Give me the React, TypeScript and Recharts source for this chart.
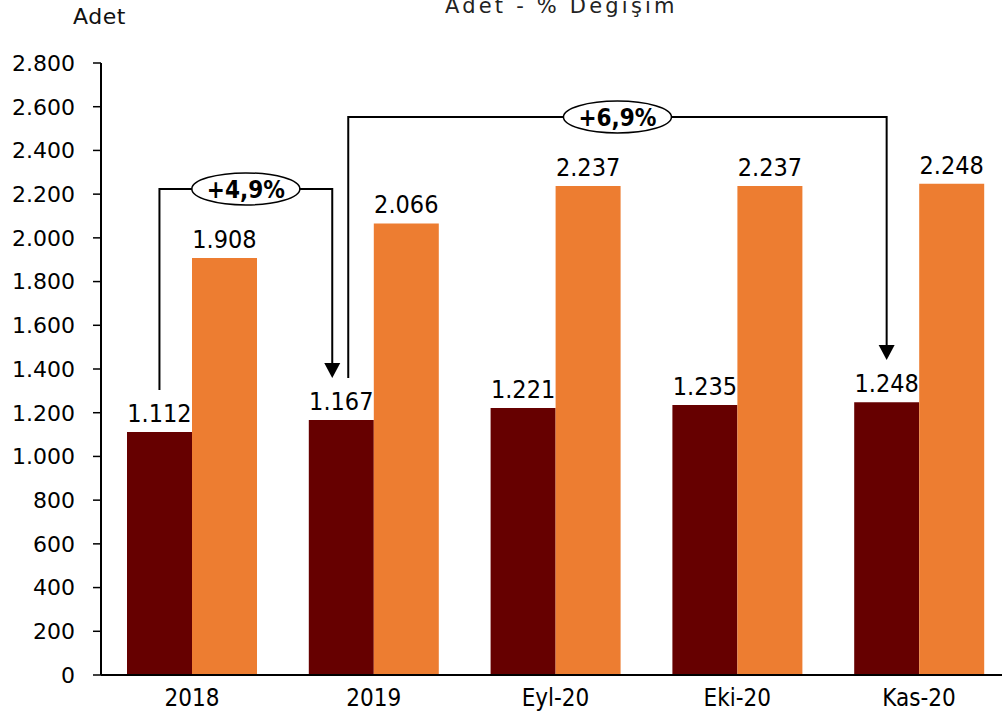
import React from "react";
import { Bar, BarChart, LabelList, XAxis, YAxis } from "recharts";

const categories = ["2018", "2019", "Eyl-20", "Eki-20", "Kas-20"];
const darkValues = [1112, 1167, 1221, 1235, 1248];
const orangeValues = [1908, 2066, 2237, 2237, 2248];
const yTicks = [0, 200, 400, 600, 800, 1000, 1200, 1400, 1600, 1800, 2000, 2200, 2400, 2600, 2800];

// bracket annotations (values in axis units)
const changes = [
  { label: "+4,9%", from: 0, to: 1, fromDx: 0, toDx: -9, startValue: 1304, level: 2224, endValue: 1359 },
  { label: "+6,9%", from: 1, to: 4, fromDx: 7, toDx: 0, startValue: 1359, level: 2553, endValue: 1441 },
];

const data = categories.map((name, i) => ({
  name,
  dark: darkValues[i],
  orange: orangeValues[i],
}));

const W = 1002;
const H = 717;
const CHART_W = 1010;
const Y_AXIS_W = 101;
const PLOT_TOP = 63;
const X_AXIS_H = 42;
const PLOT_BOTTOM = H - X_AXIS_H;
const CAT_GAP = 26;
const Y_MAX = 2800;

const fmt = (v: number) => String(v).replace(/\B(?=(\d{3})+(?!\d))/g, ".");

const yPx = (v: number) => PLOT_TOP + (1 - v / Y_MAX) * (PLOT_BOTTOM - PLOT_TOP);
const bandW = (CHART_W - Y_AXIS_W) / categories.length;
const barW = (bandW - 2 * CAT_GAP) / 2;
const darkCenter = (i: number) => Y_AXIS_W + i * bandW + CAT_GAP + barW / 2;

function Annotations() {
  return (
    <svg
      width={W}
      height={H}
      style={{ position: "absolute", left: 0, top: 0, pointerEvents: "none" }}
    >
      <text x={73} y={24} fontFamily="DejaVu Sans" fontSize={22} letterSpacing={0.5} fill="#111">
        Adet
      </text>
      <text x={445} y={13} fontFamily="DejaVu Sans" fontSize={21} letterSpacing={3.2} fill="#222">
        Adet - % Değişim
      </text>
      {changes.map((c) => {
        const x1 = darkCenter(c.from) + c.fromDx;
        const x2 = darkCenter(c.to) + c.toDx;
        const yTop = yPx(c.level);
        const yStart = yPx(c.startValue);
        const yTip = yPx(c.endValue);
        const head = 15;
        const mid = (x1 + x2) / 2;
        return (
          <g key={c.label}>
            <polyline
              points={`${x1},${yStart} ${x1},${yTop} ${x2},${yTop} ${x2},${yTip - head + 1}`}
              fill="none"
              stroke="#000"
              strokeWidth={2}
            />
            <polygon points={`${x2 - 8},${yTip - head} ${x2 + 8},${yTip - head} ${x2},${yTip}`} fill="#000" />
            <ellipse cx={mid} cy={yTop} rx={54} ry={16} fill="#fff" stroke="#000" strokeWidth={1.5} />
            <text
              x={mid}
              y={yTop + 9}
              textAnchor="middle"
              fontFamily="DejaVu Sans Condensed"
              fontWeight="bold"
              fontSize={24}
              fill="#000"
            >
              {c.label}
            </text>
          </g>
        );
      })}
    </svg>
  );
}

export default function App() {
  return (
    <div
      style={{
        position: "absolute",
        left: 0,
        top: 0,
        width: W,
        height: H,
        overflow: "hidden",
        background: "#fff",
      }}
    >
      <BarChart
        width={CHART_W}
        height={H}
        data={data}
        margin={{ top: PLOT_TOP, right: 0, left: 0, bottom: 0 }}
        barCategoryGap={CAT_GAP}
        barGap={0}
      >
        <XAxis
          dataKey="name"
          height={X_AXIS_H}
          tickLine={false}
          tickSize={0}
          tickMargin={14}
          axisLine={{ stroke: "#000", strokeWidth: 2 }}
          tick={{ fill: "#000", fontSize: 24, fontFamily: "DejaVu Sans Condensed" }}
        />
        <YAxis
          width={Y_AXIS_W}
          domain={[0, Y_MAX]}
          ticks={yTicks}
          interval={0}
          tickFormatter={fmt}
          tickSize={8}
          tickMargin={18}
          tickLine={{ stroke: "#000", strokeWidth: 1.5 }}
          axisLine={{ stroke: "#000", strokeWidth: 2 }}
          tick={{ fill: "#000", fontSize: 22, fontFamily: "DejaVu Sans" }}
        />
        <Bar dataKey="dark" fill="#660000" isAnimationActive={false}>
          <LabelList
            dataKey="dark"
            position="top"
            offset={10}
            formatter={(v: any) => fmt(Number(v))}
            style={{ fill: "#000", fontSize: 25, fontFamily: "DejaVu Sans Condensed" }}
          />
        </Bar>
        <Bar dataKey="orange" fill="#ED7D31" isAnimationActive={false}>
          <LabelList
            dataKey="orange"
            position="top"
            offset={10}
            formatter={(v: any) => fmt(Number(v))}
            style={{ fill: "#000", fontSize: 25, fontFamily: "DejaVu Sans Condensed" }}
          />
        </Bar>
      </BarChart>
      <Annotations />
    </div>
  );
}
